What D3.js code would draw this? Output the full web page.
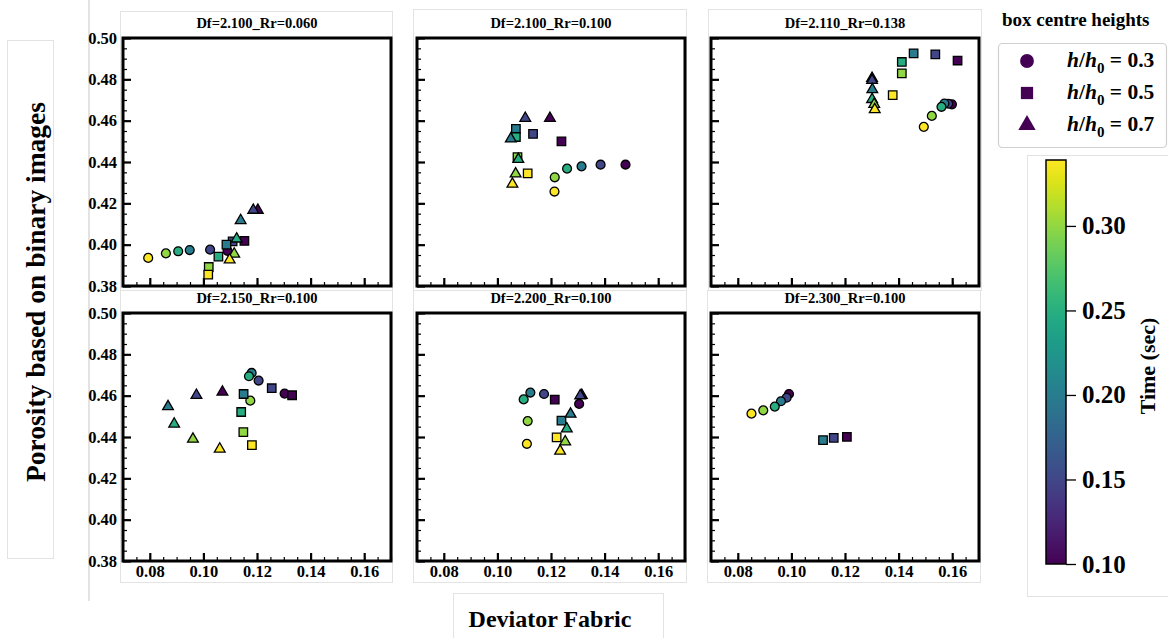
<!DOCTYPE html>
<html><head><meta charset="utf-8">
<script src="https://cdn.jsdelivr.net/npm/d3@7"></script>
<style>body{margin:0;background:#fff}svg{display:block}text{font-family:"Liberation Serif","Times New Roman",serif !important;font-weight:bold}</style>
</head><body>
<script>
// ---- data ----
const panelTitles = ["Df=2.100_Rr=0.060","Df=2.100_Rr=0.100","Df=2.110_Rr=0.138","Df=2.150_Rr=0.100","Df=2.200_Rr=0.100","Df=2.300_Rr=0.100"];
const xTicks = [0.08,0.10,0.12,0.14,0.16];
const yTicks = [0.38,0.40,0.42,0.44,0.46,0.48,0.50];
const cbTicks = [0.10,0.15,0.20,0.25,0.30];
const heightLabels = ["0.3","0.5","0.7"];
// rows: [shape, time (sec), deviator fabric, porosity]
const df2100_rr060 = [
 ["circle",0.10,0.109,0.397],["circle",0.15,0.1025,0.3976],["circle",0.20,0.0949,0.3974],["circle",0.25,0.0906,0.3968],["circle",0.30,0.086,0.3958],["circle",0.34,0.0794,0.3936],
 ["square",0.10,0.1153,0.4018],["square",0.15,0.1109,0.4016],["square",0.20,0.1086,0.400],["square",0.25,0.1056,0.3942],["square",0.30,0.102,0.3892],["square",0.34,0.1018,0.3855],
 ["triangle",0.10,0.1203,0.4167],["triangle",0.15,0.1186,0.4167],["triangle",0.20,0.1139,0.4117],["triangle",0.25,0.1124,0.4028],["triangle",0.30,0.1115,0.3955],["triangle",0.34,0.1098,0.3927]];
const df2100_rr100 = [
 ["circle",0.10,0.1478,0.4387],["circle",0.15,0.1385,0.4387],["circle",0.20,0.1314,0.4379],["circle",0.25,0.126,0.4368],["circle",0.30,0.1214,0.4326],["circle",0.34,0.1213,0.4257],
 ["square",0.10,0.1239,0.450],["square",0.15,0.1133,0.4536],["square",0.20,0.1069,0.456],["square",0.25,0.1069,0.4521],["square",0.30,0.1075,0.4424],["square",0.34,0.1113,0.4345],
 ["triangle",0.10,0.1196,0.4612],["triangle",0.15,0.1104,0.4612],["triangle",0.20,0.105,0.4512],["triangle",0.25,0.1078,0.4413],["triangle",0.30,0.1068,0.4343],["triangle",0.34,0.1056,0.4293]];
const df2110_rr138 = [
 ["circle",0.10,0.1599,0.4679],["circle",0.15,0.1585,0.4682],["circle",0.20,0.1571,0.4683],["circle",0.25,0.156,0.4667],["circle",0.30,0.1524,0.4623],["circle",0.34,0.1494,0.457],
 ["square",0.10,0.162,0.4891],["square",0.15,0.1537,0.4921],["square",0.20,0.1456,0.4926],["square",0.25,0.1412,0.4884],["square",0.30,0.1412,0.4829],["square",0.34,0.1378,0.4724],
 ["triangle",0.10,0.1301,0.4805],["triangle",0.15,0.1301,0.4795],["triangle",0.20,0.1302,0.4751],["triangle",0.25,0.1301,0.4703],["triangle",0.30,0.1309,0.4679],["triangle",0.34,0.1311,0.4654]];
const df2150_rr100 = [
 ["circle",0.10,0.1303,0.461],["circle",0.15,0.1206,0.4673],["circle",0.20,0.118,0.471],["circle",0.25,0.117,0.4694],["circle",0.30,0.1175,0.4576],
 ["square",0.10,0.1331,0.4602],["square",0.15,0.1255,0.4636],["square",0.20,0.115,0.4608],["square",0.25,0.1141,0.4521],["square",0.30,0.1149,0.4424],["square",0.34,0.1181,0.4361],
 ["triangle",0.10,0.1071,0.4618],["triangle",0.15,0.0974,0.4602],["triangle",0.20,0.0868,0.4547],["triangle",0.25,0.0891,0.4463],["triangle",0.30,0.0961,0.439],["triangle",0.34,0.1061,0.4342]];
const df2200_rr100 = [
 ["circle",0.10,0.1305,0.456],["circle",0.15,0.1174,0.4608],["circle",0.20,0.1123,0.4615],["circle",0.25,0.1098,0.4582],["circle",0.30,0.1113,0.4477],["circle",0.34,0.111,0.4367],
 ["square",0.10,0.1214,0.4581],["square",0.20,0.1239,0.4479],["square",0.34,0.1221,0.4398],
 ["triangle",0.10,0.1315,0.4602],["triangle",0.15,0.1309,0.460],["triangle",0.20,0.1273,0.4511],["triangle",0.25,0.1259,0.444],["triangle",0.30,0.1253,0.4377],["triangle",0.34,0.1234,0.4332]];
const df2300_rr100 = [
 ["circle",0.10,0.0991,0.4608],["circle",0.15,0.0982,0.459],["circle",0.20,0.0961,0.4573],["circle",0.25,0.0938,0.4547],["circle",0.30,0.0895,0.4529],["circle",0.34,0.0851,0.4513],
 ["square",0.10,0.1207,0.4401],["square",0.15,0.1158,0.4396],["square",0.20,0.1118,0.4385]];
const panelData = [df2100_rr060, df2100_rr100, df2110_rr138, df2150_rr100, df2200_rr100, df2300_rr100];

// ---- layout ----
const SERIF = '"Liberation Serif","Times New Roman",serif';
const W = 1168, H = 638;
const colLeft = [123, 417, 711], rowTop = [38, 313], pw = 268, ph = 248;
const faint = "#e3e3e3";
const svg = d3.select("body").append("svg").attr("width", W).attr("height", H);

// faint frames around sub-images
const frames = [[120,11,272,279],[413,9,273,281],[708,9,273,281],[120,290,272,292],[413,290,273,292],[707,290,273,292],[7,40,46,518],[453,593,210,45],[1027,155,141,441],[88,0,1,600]];
svg.selectAll("rect.frame").data(frames).join("rect").attr("class","frame")
  .attr("x",d=>d[0]+0.5).attr("y",d=>d[1]+0.5).attr("width",d=>d[2]).attr("height",d=>d[3])
  .attr("fill","none").attr("stroke",faint).attr("stroke-width",1);

const color = d3.scaleSequential(d3.interpolateViridis).domain([0.10, 0.34]);
const shapeOrder = ["circle","square","triangle"];
const symType = {circle: d3.symbolCircle, square: d3.symbolSquare, triangle: d3.symbolTriangle};
const symSize = {circle: 62, square: 72, triangle: 50};

const minorX = d3.range(0.075, 0.1701, 0.005).map(v=>+v.toFixed(3));
const minorY = d3.range(0.38, 0.5001, 0.005).map(v=>+v.toFixed(3));

panelData.forEach((data, i) => {
  const col = i % 3, row = Math.floor(i / 3);
  const x0 = colLeft[col], y0 = rowTop[row];
  const x = d3.scaleLinear().domain([0.07, 0.17]).range([0, pw]);
  const y = d3.scaleLinear().domain([0.38, 0.50]).range([ph, 0]);
  const g = svg.append("g").attr("transform", `translate(${x0},${y0})`);

  g.append("text").attr("x", pw/2).attr("y", -10).attr("text-anchor","middle")
    .style("font-family", SERIF).attr("font-size", 14.5).text(panelTitles[i]);

  // minor ticks
  g.append("g").attr("transform",`translate(0,${ph})`)
    .call(d3.axisBottom(x).tickValues(minorX).tickSize(-4).tickFormat(""))
    .call(a=>a.select(".domain").remove()).call(a=>a.selectAll("line").attr("stroke-width",1.2));
  g.append("g")
    .call(d3.axisLeft(y).tickValues(minorY).tickSize(-4).tickFormat(""))
    .call(a=>a.select(".domain").remove()).call(a=>a.selectAll("line").attr("stroke-width",1.2));
  // major ticks
  const xa = g.append("g").attr("transform",`translate(0,${ph})`)
    .call(d3.axisBottom(x).tickValues(xTicks).tickSize(-8).tickPadding(4)
      .tickFormat(row === 1 ? d3.format(".2f") : ""));
  xa.attr("font-family", SERIF);
  xa.select(".domain").remove();
  xa.selectAll("line").attr("stroke-width",2.2);
  xa.selectAll("text").style("font-family", SERIF).attr("font-size",16.5).attr("fill","#000");
  const ya = g.append("g")
    .call(d3.axisLeft(y).tickValues(yTicks).tickSize(-8).tickPadding(6)
      .tickFormat(col === 0 ? d3.format(".2f") : ""));
  ya.attr("font-family", SERIF);
  ya.select(".domain").remove();
  ya.selectAll("line").attr("stroke-width",2.2);
  ya.selectAll("text").style("font-family", SERIF).attr("font-size",16.5).attr("fill","#000");

  // markers
  const pts = shapeOrder.flatMap(s => data.filter(d => d[0] === s).sort((a,b)=>a[1]-b[1]));
  g.selectAll("path.pt").data(pts).join("path").attr("class","pt")
    .attr("transform", d => `translate(${x(d[2])},${y(d[3])})`)
    .attr("d", d => d3.symbol().type(symType[d[0]]).size(symSize[d[0]])())
    .attr("fill", d => color(d[1])).attr("stroke","#000").attr("stroke-width",1.3);

  g.append("rect").attr("x",0).attr("y",0).attr("width",pw).attr("height",ph)
    .attr("fill","none").attr("stroke","#000").attr("stroke-width",3);
});

// axis titles
svg.append("text").attr("transform","translate(45,292) rotate(-90)").attr("text-anchor","middle")
  .attr("font-size",27.5).text("Porosity based on binary images");
svg.append("text").attr("x",550).attr("y",627).attr("text-anchor","middle")
  .attr("font-size",24).text("Deviator Fabric");

// legend
svg.append("text").attr("x",1002).attr("y",26).attr("font-size",19).text("box centre heights");
svg.append("rect").attr("x",998.5).attr("y",43.5).attr("width",168).attr("height",104).attr("rx",4)
  .attr("fill","#fff").attr("stroke","#d0d0d0").attr("stroke-width",1.2);
const legY = d3.scalePoint().domain(heightLabels).range([61, 125]);
const lsz = {circle: 150, square: 150, triangle: 130};
heightLabels.forEach((h, k) => {
  const s = shapeOrder[k];
  svg.append("path").attr("transform",`translate(1027,${legY(h)})`)
    .attr("d", d3.symbol().type(symType[s]).size(lsz[s])()).attr("fill","#440154");
  const t = svg.append("text").attr("x",1067).attr("y",legY(h)+6).attr("font-size",21.5);
  t.append("tspan").attr("font-style","italic").text("h");
  t.append("tspan").text("/");
  t.append("tspan").attr("font-style","italic").text("h");
  t.append("tspan").attr("font-size",15).attr("dy",6).text("0");
  t.append("tspan").attr("dy",-6).text(" = " + h);
});

// colorbar
const cbX = 1046, cbW = 20, cbTop = 160, cbBot = 564;
const cbScale = d3.scaleLinear().domain([0.10, 0.339]).range([cbBot, cbTop]);
const grad = svg.append("defs").append("linearGradient").attr("id","vir")
  .attr("x1",0).attr("y1",1).attr("x2",0).attr("y2",0);
d3.range(0, 1.0001, 0.05).forEach(f => grad.append("stop").attr("offset", f)
  .attr("stop-color", d3.interpolateViridis(f)));
svg.append("rect").attr("x",cbX).attr("y",cbTop).attr("width",cbW).attr("height",cbBot-cbTop)
  .attr("fill","url(#vir)").attr("stroke","#000").attr("stroke-width",1.5);
const cba = svg.append("g").attr("transform",`translate(${cbX+cbW},0)`)
  .call(d3.axisRight(cbScale).tickValues(cbTicks).tickSize(10).tickPadding(6).tickFormat(d3.format(".2f")));
cba.attr("font-family", SERIF);
cba.select(".domain").remove();
cba.selectAll("line").attr("stroke-width",1.3);
cba.selectAll("text").style("font-family", SERIF).attr("font-size",25).attr("fill","#000");
svg.append("text").attr("transform","translate(1155,366) rotate(-90)").attr("text-anchor","middle")
  .attr("font-size",22).text("Time (sec)");
</script>
</body></html>
